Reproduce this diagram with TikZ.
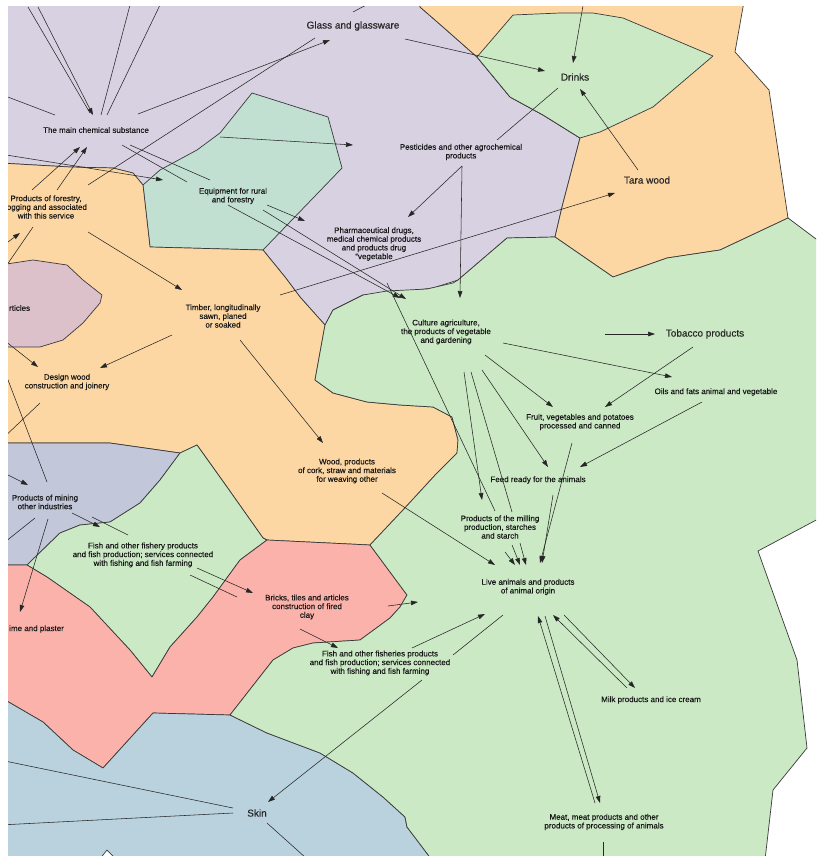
\documentclass[tikz,border=0pt]{standalone}
\usepackage{fontspec}
\setmainfont{Liberation Sans}
\newfontfamily\labelfont[FakeBold=0.35]{Liberation Sans}
\usetikzlibrary{arrows.meta}

\definecolor{cLav}{HTML}{D8D1E1}
\definecolor{cOra}{HTML}{FDD7A3}
\definecolor{cGre}{HTML}{CBE9C5}
\definecolor{cTea}{HTML}{C1E0D2}
\definecolor{cMau}{HTML}{DCC0CA}
\definecolor{cBgr}{HTML}{C2C8D9}
\definecolor{cPin}{HTML}{FAB2AA}
\definecolor{cSky}{HTML}{B9D2DD}
\definecolor{cEdge}{HTML}{3A3A3A}

\tikzset{
  region/.style={draw=cEdge, line width=0.7pt, line join=round},
  link/.style={draw=black!85, line width=0.55pt},
  arr/.style={link, -{Triangle[length=7pt,width=4.6pt]}},
  lbl/.style={font=\labelfont\fontsize{8}{8.7}\selectfont, align=center, inner sep=0pt, text=black!90},
  biglbl/.style={font=\labelfont\fontsize{10}{12}\selectfont, inner sep=0pt, text=black!85},
}

\begin{document}
\begin{tikzpicture}[x=1pt,y=-1pt]
\useasboundingbox (0,0) rectangle (816,856);
\fill[white] (0,0) rectangle (816,856);
\begin{scope}
\clip (8,7) rectangle (816,856);

% ---------- regions ----------
\filldraw[region, fill=cLav] (0,0) -- (420,0) -- (420,7) -- (443,27) -- (477,57) -- (510,97) -- (543,115) -- (580,138)
  -- (562,207) -- (555,237) -- (507,238) -- (493,250) -- (458,280) -- (433,288) -- (400,292) -- (363,295)
  -- (333,310) -- (325,325) -- (300,297) -- (285,277) -- (263,250) -- (143,185) -- (133,173) -- (113,168)
  -- (70,167) -- (0,163) -- cycle;
\filldraw[region, fill=cOra] (420,0) -- (420,7) -- (443,27) -- (477,57) -- (510,97) -- (543,115) -- (580,138)
  -- (562,207) -- (555,237) -- (613,277) -- (667,258) -- (720,250) -- (788,218) -- (769,90) -- (735,52)
  -- (743,7) -- (745,0) -- cycle;
\filldraw[region, fill=cGre] (477,57) -- (513,15) -- (560,13) -- (593,13) -- (623,18) -- (713,56)
  -- (653,107) -- (600,132) -- (580,138) -- (543,115) -- (510,97) -- cycle;
\filldraw[region, fill=cTea] (252,93) -- (328,117) -- (342,168) -- (263,250) -- (150,247) -- (143,185)
  -- (160,170) -- (197,150) -- (220,133) -- cycle;
\filldraw[region, fill=cOra] (0,163) -- (70,167) -- (113,168) -- (133,173) -- (143,185) -- (150,247)
  -- (263,250) -- (285,277) -- (300,297) -- (325,325) -- (315,380) -- (333,393) -- (367,402) -- (400,405)
  -- (433,407) -- (452,417) -- (458,440) -- (457,453) -- (437,473) -- (403,510) -- (370,545) -- (267,540)
  -- (263,538) -- (227,487) -- (197,445) -- (180,453) -- (110,443) -- (0,443) -- cycle;
\filldraw[region, fill=cMau] (0,265) -- (33,260) -- (67,265) -- (83,280) -- (102,295) -- (100,303)
  -- (83,323) -- (63,340) -- (40,347) -- (0,347) -- cycle;
\filldraw[region, fill=cBgr] (0,443) -- (110,443) -- (180,453) -- (160,480) -- (140,503) -- (110,522)
  -- (80,525) -- (60,533) -- (27,565) -- (0,565) -- cycle;
\filldraw[region, fill=cGre] (180,453) -- (197,445) -- (227,487) -- (263,538) -- (267,540) -- (240,560)
  -- (213,597) -- (197,617) -- (170,647) -- (152,677) -- (130,650) -- (90,607) -- (47,577) -- (27,565)
  -- (60,533) -- (80,525) -- (110,522) -- (140,503) -- (160,480) -- cycle;
\filldraw[region, fill=cPin] (0,565) -- (27,565) -- (47,577) -- (90,607) -- (130,650) -- (152,677)
  -- (170,647) -- (197,617) -- (213,597) -- (240,560) -- (267,540) -- (370,545) -- (407,595) -- (400,607)
  -- (390,618) -- (360,640) -- (313,643) -- (293,648) -- (273,660) -- (230,715) -- (153,713) -- (103,768)
  -- (73,750) -- (43,722) -- (0,697) -- cycle;
\filldraw[region, fill=cSky] (0,697) -- (43,722) -- (73,750) -- (103,768) -- (153,713) -- (230,715)
  -- (267,733) -- (320,753) -- (353,773) -- (383,797) -- (405,817) -- (407,827) -- (432,860) -- (0,860) -- cycle;
\filldraw[region, fill=white] (99,860) -- (107,850) -- (117,860) -- cycle;
\filldraw[region, fill=cGre] (325,325) -- (333,310) -- (363,295) -- (387,291) -- (427,289) -- (453,283)
  -- (458,280) -- (493,250) -- (507,238) -- (555,237) -- (613,277) -- (667,258) -- (720,250) -- (788,218)
  -- (820,242) -- (820,518) -- (758,551) -- (797,660) -- (807,748) -- (773,790) -- (765,860) -- (432,860)
  -- (407,827) -- (405,817) -- (383,797) -- (353,773) -- (320,753) -- (267,733) -- (230,715) -- (273,660)
  -- (293,648) -- (313,643) -- (360,640) -- (390,618) -- (400,607) -- (407,595) -- (370,545) -- (403,510)
  -- (437,473) -- (457,453) -- (458,440) -- (452,417) -- (433,407) -- (400,405) -- (367,402) -- (333,393)
  -- (315,380) -- cycle;

% ---------- labels ----------
\node[biglbl] (glass) at (353,26) {Glass and glassware};
\node[biglbl] (drinks) at (575,77) {Drinks};
\node[biglbl] (tara) at (647,180) {Tara wood};
\node[biglbl] (tobacco) at (705,334) {Tobacco products};
\node[biglbl] (skin) at (257,813) {Skin};
\node[lbl] (chem) at (96,130) {The main chemical substance};
\node[lbl] (pest) at (461,152) {Pesticides and other agrochemical\\products};
\node[lbl] (equip) at (233,196) {Equipment for rural\\and forestry};
\node[lbl] (forest) at (46,207) {Products of forestry,\\logging and associated\\with this service};
\node[lbl] (pharma) at (374,244) {Pharmaceutical drugs,\\medical chemical products\\and products drug\\“vegetable};
\node[lbl, anchor=west] (artic) at (9,308) {rticles};
\node[lbl] (timber) at (223,316) {Timber, longitudinally\\sawn, planed\\or soaked};
\node[lbl] (culture) at (446,332) {Culture agriculture,\\the products of vegetable\\and gardening};
\node[lbl] (oils) at (716,392) {Oils and fats animal and vegetable};
\node[lbl] (design) at (67,382) {Design wood\\construction and joinery};
\node[lbl] (fruit) at (580,422) {Fruit, vegetables and potatoes\\processed and canned};
\node[lbl] (wood) at (347,471) {Wood, products\\of cork, straw and materials\\for weaving other};
\node[lbl] (feed) at (538,480) {Feed ready for the animals};
\node[lbl] (mining) at (45,502) {Products of mining\\other industries};
\node[lbl] (milling) at (500,527) {Products of the milling\\production, starches\\and starch};
\node[lbl] (fishA) at (143,555) {Fish and other fishery products\\and fish production; services connected\\with fishing and fish farming};
\node[lbl] (live) at (528,587) {Live animals and products\\of animal origin};
\node[lbl, anchor=west] (lime) at (9,629) {ime and plaster};
\node[lbl] (bricks) at (307,607) {Bricks, tiles and articles\\construction of fired\\clay};
\node[lbl] (fishB) at (380,663) {Fish and other fisheries products\\and fish production; services connected\\with fishing and fish farming};
\node[lbl] (milk) at (651,700) {Milk products and ice cream};
\node[lbl] (meat) at (604,822) {Meat, meat products and other\\products of processing of animals};

% ---------- connector end points ----------
\coordinate (e1a) at (28,7);   \coordinate (e1b) at (90,113);
\coordinate (e2a) at (38,7);   \coordinate (e2b) at (93,115);
\coordinate (e3a) at (130,5);  \coordinate (e3b) at (101,115);
\coordinate (e4a) at (160,5);  \coordinate (e4b) at (107,115);
\coordinate (e5a) at (0,94);   \coordinate (e5b) at (55,115);
\coordinate (e6a) at (138,114); \coordinate (e6b) at (330,40);
\coordinate (e7a) at (315,38); \coordinate (e7b) at (88,185);
\coordinate (e8a) at (353,12); \coordinate (e8b) at (372,2);
\coordinate (e9a) at (405,39); \coordinate (e9b) at (545,71);
\coordinate (e10a) at (584,0); \coordinate (e10b) at (573,63);
\coordinate (e11a) at (638,170); \coordinate (e11b) at (580,89);
\coordinate (e12a) at (558,88); \coordinate (e12b) at (497,140);
\coordinate (e13a) at (220,137); \coordinate (e13b) at (353,145);
\coordinate (e14a) at (122,145); \coordinate (e14b) at (187,182);
\coordinate (e15a) at (130,145); \coordinate (e15b) at (210,180);
\coordinate (e16a) at (0,154); \coordinate (e16b) at (163,180);
\coordinate (e17a) at (32,190); \coordinate (e17b) at (80,147);
\coordinate (e18a) at (57,190); \coordinate (e18b) at (87,147);
\coordinate (e19a) at (267,205); \coordinate (e19b) at (305,221);
\coordinate (e20a) at (228,205); \coordinate (e20b) at (400,298);
\coordinate (e21a) at (263,210); \coordinate (e21b) at (406,299);
\coordinate (e22a) at (462,166); \coordinate (e22b) at (408,217);
\coordinate (e23b) at (460,298);
\coordinate (e24a) at (280,295); \coordinate (e24b) at (615,193);
\coordinate (e25a) at (387,283); \coordinate (e25b) at (495,511);
\coordinate (e26a) at (605,334); \coordinate (e26b) at (655,334);
\coordinate (e27a) at (503,343); \coordinate (e27b) at (672,377);
\coordinate (e28a) at (693,347); \coordinate (e28b) at (605,407);
\coordinate (e29a) at (485,355); \coordinate (e29b) at (553,407);
\coordinate (e30a) at (482,370); \coordinate (e30b) at (548,467);
\coordinate (e31a) at (702,402); \coordinate (e31b) at (580,467);
\coordinate (e32a) at (464,372); \coordinate (e32b) at (482,500);
\coordinate (e33a) at (471,372); \coordinate (e33b) at (512,512);
\coordinate (e34a) at (572,443); \coordinate (e34b) at (540,563);
\coordinate (e35a) at (553,495); \coordinate (e35b) at (542,563);
\coordinate (e36a) at (505,552); \coordinate (e36b) at (515,565);
\coordinate (e37a) at (512,545); \coordinate (e37b) at (520,565);
\coordinate (e38a) at (520,543); \coordinate (e38b) at (526,565);
\coordinate (e39a) at (382,493); \coordinate (e39b) at (495,565);
\coordinate (e40a) at (388,606); \coordinate (e40b) at (418,602);
\coordinate (e41a) at (412,648); \coordinate (e41b) at (485,614);
\coordinate (e42a) at (503,615); \coordinate (e42b) at (453,655);
\coordinate (e42c) at (422,680); \coordinate (e42d) at (268,802);
\coordinate (e43a) at (627,688); \coordinate (e43b) at (553,615);
\coordinate (e44a) at (564,615); \coordinate (e44b) at (635,688);
\coordinate (e45a) at (595,803); \coordinate (e45b) at (538,616);
\coordinate (e46a) at (545,616); \coordinate (e46b) at (600,803);
\coordinate (e47a) at (603,842); \coordinate (e47b) at (603,860);
\coordinate (e48a) at (0,760); \coordinate (e48b) at (233,808);
\coordinate (e49a) at (0,825); \coordinate (e49b) at (233,813);
\coordinate (e50a) at (267,823); \coordinate (e50b) at (306,858);
\coordinate (e51a) at (197,568); \coordinate (e51b) at (253,593);
\coordinate (e52a) at (190,575); \coordinate (e52b) at (237,597);
\coordinate (e53a) at (300,629); \coordinate (e53b) at (338,648);
\coordinate (e54a) at (72,513); \coordinate (e54b) at (100,527);
\coordinate (e55a) at (92,517); \coordinate (e55b) at (128,535);
\coordinate (e56a) at (0,471); \coordinate (e56b) at (28,485);
\coordinate (e57a) at (47,482); \coordinate (e57b) at (0,359);
\coordinate (e58a) at (35,518); \coordinate (e58b) at (0,546);
\coordinate (e59a) at (48,519); \coordinate (e59b) at (20,612);
\coordinate (e60a) at (0,337); \coordinate (e60b) at (38,367);
\coordinate (e61a) at (172,335); \coordinate (e61b) at (100,368);
\coordinate (e62a) at (40,403); \coordinate (e62b) at (0,441);
\coordinate (e63a) at (88,232); \coordinate (e63b) at (182,290);
\coordinate (e64a) at (33,227); \coordinate (e64b) at (0,275);
\coordinate (e65a) at (0,248); \coordinate (e65b) at (20,233);
\coordinate (e66a) at (240,340); \coordinate (e66b) at (323,443);

% ---------- connectors ----------
\draw[link] (e1a) -- (e1b);
\draw[arr]  (e2a) -- (e2b);
\draw[link] (e3a) -- (e3b);
\draw[link] (e4a) -- (e4b);
\draw[link] (e5a) -- (e5b);
\draw[arr]  (e6a) -- (e6b);
\draw[link] (e7a) -- (e7b);
\draw[link] (e8a) -- (e8b);
\draw[arr]  (e9a) -- (e9b);
\draw[arr]  (e10a) -- (e10b);
\draw[arr]  (e11a) -- (e11b);
\draw[link] (e12a) -- (e12b);
\draw[arr]  (e13a) -- (e13b);
\draw[link] (e14a) -- (e14b);
\draw[link] (e15a) -- (e15b);
\draw[arr]  (e16a) -- (e16b);
\draw[arr]  (e17a) -- (e17b);
\draw[arr]  (e18a) -- (e18b);
\draw[arr]  (e19a) -- (e19b);
\draw[arr]  (e20a) -- (e20b);
\draw[arr]  (e21a) -- (e21b);
\draw[arr]  (e22a) -- (e22b);
\draw[arr]  (e22a) -- (e23b);
\draw[arr]  (e24a) -- (e24b);
\draw[link] (e25a) -- (e25b);
\draw[arr]  (e26a) -- (e26b);
\draw[arr]  (e27a) -- (e27b);
\draw[arr]  (e28a) -- (e28b);
\draw[arr]  (e29a) -- (e29b);
\draw[arr]  (e30a) -- (e30b);
\draw[arr]  (e31a) -- (e31b);
\draw[arr]  (e32a) -- (e32b);
\draw[link] (e33a) -- (e33b);
\draw[arr]  (e34a) -- (e34b);
\draw[arr]  (e35a) -- (e35b);
\draw[arr]  (e36a) -- (e36b);
\draw[arr]  (e37a) -- (e37b);
\draw[arr]  (e38a) -- (e38b);
\draw[arr]  (e39a) -- (e39b);
\draw[arr]  (e40a) -- (e40b);
\draw[arr]  (e41a) -- (e41b);
\draw[link] (e42a) -- (e42b);
\draw[arr]  (e42c) -- (e42d);
\draw[arr]  (e43a) -- (e43b);
\draw[arr]  (e44a) -- (e44b);
\draw[arr]  (e45a) -- (e45b);
\draw[arr]  (e46a) -- (e46b);
\draw[link] (e47a) -- (e47b);
\draw[link] (e48a) -- (e48b);
\draw[link] (e49a) -- (e49b);
\draw[link] (e50a) -- (e50b);
\draw[arr]  (e51a) -- (e51b);
\draw[link] (e52a) -- (e52b);
\draw[arr]  (e53a) -- (e53b);
\draw[arr]  (e54a) -- (e54b);
\draw[link] (e55a) -- (e55b);
\draw[arr]  (e56a) -- (e56b);
\draw[link] (e57a) -- (e57b);
\draw[link] (e58a) -- (e58b);
\draw[arr]  (e59a) -- (e59b);
\draw[arr]  (e60a) -- (e60b);
\draw[arr]  (e61a) -- (e61b);
\draw[link] (e62a) -- (e62b);
\draw[arr]  (e63a) -- (e63b);
\draw[link] (e64a) -- (e64b);
\draw[arr]  (e65a) -- (e65b);
\draw[arr]  (e66a) -- (e66b);
\end{scope}
\end{tikzpicture}
\end{document}
